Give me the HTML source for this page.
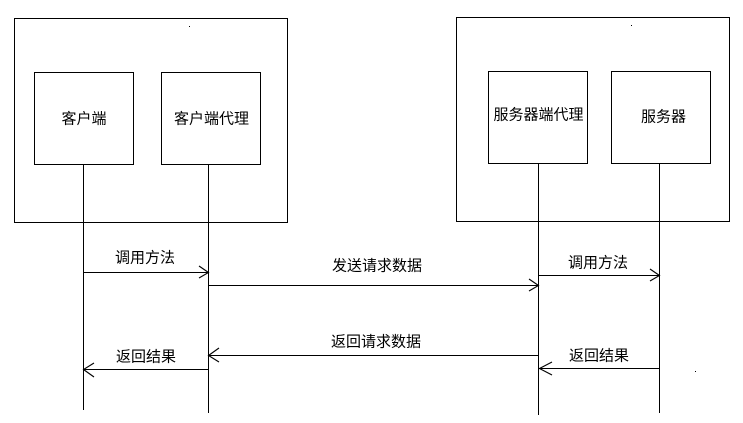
<!DOCTYPE html>
<html>
<head>
<meta charset="utf-8">
<style>
html,body{margin:0;padding:0;background:#fff;}
svg{display:block;}
text{font-family:"Liberation Sans","Noto Sans CJK SC",sans-serif;font-size:15px;fill:#000;}
</style>
</head>
<body>
<svg width="743" height="423" viewBox="0 0 743 423" xmlns="http://www.w3.org/2000/svg">
<g fill="none" stroke="#000" stroke-width="1" shape-rendering="crispEdges">
  <!-- left group -->
  <rect x="14.5" y="18.5" width="273" height="204"/>
  <rect x="34.5" y="72.5" width="99" height="92"/>
  <rect x="161.5" y="72.5" width="99" height="92"/>
  <!-- right group -->
  <rect x="456.5" y="17.5" width="273" height="204"/>
  <rect x="488.5" y="71.5" width="99" height="92"/>
  <rect x="611.5" y="71.5" width="99" height="92"/>
  <!-- lifelines -->
  <line x1="83.5" y1="164" x2="83.5" y2="410"/>
  <line x1="208.5" y1="164" x2="208.5" y2="413"/>
  <line x1="538.5" y1="163" x2="538.5" y2="415"/>
  <line x1="659.5" y1="163" x2="659.5" y2="413"/>
  <!-- horizontal message lines -->
  <line x1="83.5" y1="272.5" x2="208.5" y2="272.5"/>
  <line x1="208.5" y1="285.5" x2="538.5" y2="285.5"/>
  <line x1="538.5" y1="275.5" x2="659.5" y2="275.5"/>
  <line x1="208.5" y1="355.5" x2="538.5" y2="355.5"/>
  <line x1="83.5" y1="369.5" x2="208.5" y2="369.5"/>
  <line x1="538.5" y1="368.5" x2="659.5" y2="368.5"/>
</g>
<g fill="none" stroke="#000" stroke-width="1.1">
  <polyline points="199,266 208.5,272.5 199,278"/>
  <polyline points="529,279 538.5,285.5 529,291"/>
  <polyline points="650,269 659.5,275.5 650,281"/>
  <polyline points="219,348 208.5,355.5 219,362"/>
  <polyline points="94,363 83.5,369.5 94,377"/>
  <polyline points="552,362 539.5,368.5 552,375"/>
</g>
<!-- stray dots -->
<rect x="189" y="26" width="1" height="1" fill="#000"/>
<rect x="631" y="25" width="1" height="1" fill="#000"/>
<rect x="695" y="371" width="1" height="1" fill="#000"/>

<g text-anchor="middle" dominant-baseline="central">
  <text x="84" y="119">客户端</text>
  <text x="211.5" y="119">客户端代理</text>
  <text x="538.5" y="115">服务器端代理</text>
  <text x="663.5" y="117">服务器</text>
  <text x="145" y="258">调用方法</text>
  <text x="377" y="266">发送请求数据</text>
  <text x="598" y="263">调用方法</text>
  <text x="146" y="357">返回结果</text>
  <text x="376" y="342">返回请求数据</text>
  <text x="599" y="356">返回结果</text>
</g>
</svg>
</body>
</html>
